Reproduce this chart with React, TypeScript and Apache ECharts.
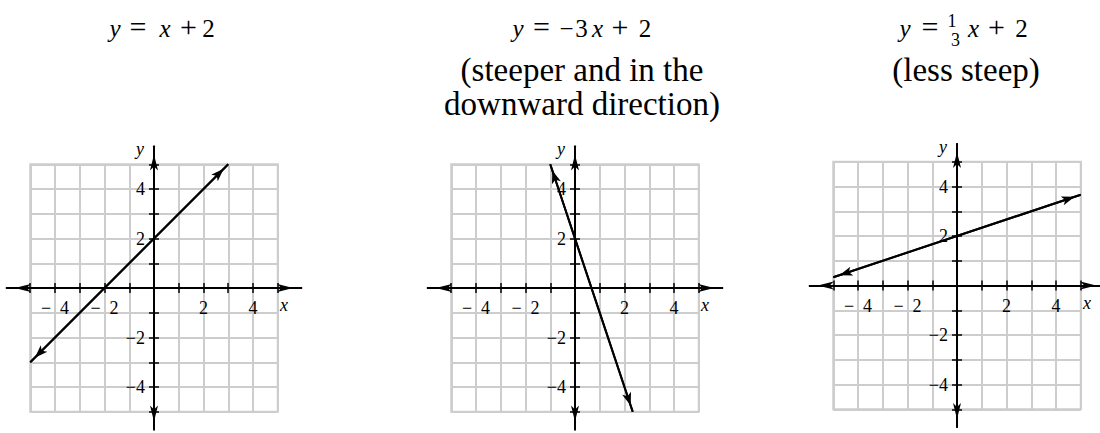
import React, { useEffect, useRef } from "react";
import * as echarts from "echarts";

// ---- data ----
const gridTicks = [-5, -4, -3, -2, -1, 0, 1, 2, 3, 4, 5];
const tickLabels = [-4, -2, 2, 4];
const line1 = [[-5, -3], [3, 5]];
const line2 = [[-1, 5], [2.333, -5]];
const line3 = [[-5, 0.333], [5, 3.667]];
const lines = [line1, line2, line3];
const subtitles2 = ["(steeper and in the", "downward direction)"];
const subtitles3 = ["(less steep)"];

// ---- layout ----
const U = 24.75;
const XR = 5.95;
const YR = 5.72;
const PANELS = [
  { ox: 154, oy: 288 },
  { ox: 575, oy: 288 },
  { ox: 957, oy: 285.5 },
];
const GRAY = "#cdcdcd";
const BLACK = "#000";
const SERIF = "Liberation Serif, Times New Roman, serif";
const EQ_BASE = 37; // baseline of the equation row

// equation pieces: [text, centre x, italic, font size]
type Piece = [string, number, boolean, number];
const EQ1: Piece[] = [
  ["y", 115, true, 25],
  ["=", 138, false, 30],
  ["x", 165, true, 25],
  ["+", 188.5, false, 30],
  ["2", 208.5, false, 25],
];
const EQ2: Piece[] = [
  ["y", 518, true, 25],
  ["=", 541.5, false, 30],
  ["\u2212", 566.5, false, 25],
  ["3", 581.5, false, 25],
  ["x", 597.5, true, 25],
  ["+", 620, false, 30],
  ["2", 645, false, 25],
];
const EQ3: Piece[] = [
  ["y", 905, true, 25],
  ["=", 930, false, 30],
  ["x", 973.5, true, 25],
  ["+", 996.5, false, 30],
  ["2", 1021.5, false, 25],
];

function buildOption() {
  const grid: any[] = [];
  const xAxis: any[] = [];
  const yAxis: any[] = [];
  const series: any[] = [];
  const graphic: any[] = [];

  PANELS.forEach((p, k) => {
    const { ox, oy } = p;
    grid.push({
      left: ox - 5 * U,
      top: oy - 5 * U,
      width: 10 * U,
      height: 10 * U,
      show: true,
      borderColor: GRAY,
      borderWidth: 2,
      outerBoundsMode: "none",
    });
    grid.push({
      left: ox - XR * U,
      top: oy - YR * U,
      width: 2 * XR * U,
      height: 2 * YR * U,
      outerBoundsMode: "none",
    });
    const gi = 2 * k;
    const ai = 2 * k + 1;
    const base = 3 * k;
    const grayAxis = () => ({
      type: "value",
      gridIndex: gi,
      min: -5,
      max: 5,
      interval: 1,
      axisLine: { show: false, onZero: false },
      axisTick: { show: false },
      axisLabel: { show: false },
      splitLine: { show: true, lineStyle: { color: GRAY, width: 2 } },
      z: 0,
    });
    xAxis.push(grayAxis());
    yAxis.push(grayAxis());
    const labelStyle = { fontSize: 18, fontFamily: SERIF, color: BLACK };
    const tick = { show: true, customValues: gridTicks, length: 5, lineStyle: { color: BLACK, width: 1.5 } };
    const arrowLine = {
      show: true,
      onZero: false,
      symbol: ["arrow", "arrow"],
      symbolSize: [6, 16],
      symbolOffset: [8, -8],
      lineStyle: { color: BLACK, width: 2 },
    };
    const plainLine = { show: true, onZero: false, lineStyle: { color: BLACK, width: 2 } };

    xAxis.push({
      type: "value",
      gridIndex: ai,
      position: "bottom",
      offset: -YR * U,
      min: -XR,
      max: XR,
      z: 3,
      axisLine: arrowLine,
      axisTick: tick,
      axisLabel: {
        show: true,
        customValues: tickLabels,
        margin: 11,
        ...labelStyle,
        formatter: (v: number) => (v < 0 ? "\u2212\u2002" + Math.abs(v) : String(v)),
      },
      splitLine: { show: false },
    });
    xAxis.push({
      type: "value",
      gridIndex: ai,
      position: "top",
      offset: -YR * U,
      min: -XR,
      max: XR,
      z: 3,
      axisLine: plainLine,
      axisTick: tick,
      axisLabel: { show: false },
      splitLine: { show: false },
    });
    yAxis.push({
      type: "value",
      gridIndex: ai,
      position: "left",
      offset: -XR * U,
      min: -YR,
      max: YR,
      z: 3,
      axisLine: arrowLine,
      axisTick: tick,
      axisLabel: {
        show: true,
        customValues: tickLabels,
        margin: 9,
        ...labelStyle,
        formatter: (v: number) => (v < 0 ? "\u2212" + Math.abs(v) : String(v)),
      },
      splitLine: { show: false },
    });
    yAxis.push({
      type: "value",
      gridIndex: ai,
      position: "right",
      offset: -XR * U,
      min: -YR,
      max: YR,
      z: 3,
      axisLine: plainLine,
      axisTick: tick,
      axisLabel: { show: false },
      splitLine: { show: false },
    });

    const ln = lines[k];
    series.push({
      type: "line",
      xAxisIndex: base,
      yAxisIndex: base,
      data: ln,
      symbol: "none",
      clip: false,
      silent: true,
      z: 5,
      lineStyle: { color: BLACK, width: 2 },
      markLine: {
        silent: true,
        symbol: ["arrow", "arrow"],
        symbolSize: [7, 13],
        symbolOffset: [[0, 6.5], [0, 6.5]],
        lineStyle: { color: BLACK, width: 2, type: "solid" },
        label: { show: false },
        emphasis: { disabled: true },
        data: [[{ coord: ln[0] }, { coord: ln[1] }]],
      },
    });

    graphic.push({
      type: "text",
      x: ox + 5.25 * U,
      y: oy + 17,
      style: { text: "x", fontSize: 18, fontStyle: "italic", fontFamily: SERIF, fill: BLACK, align: "center", verticalAlign: "middle" },
    });
    graphic.push({
      type: "text",
      x: ox - 14,
      y: oy - 5.6 * U,
      style: { text: "y", fontSize: 18, fontStyle: "italic", fontFamily: SERIF, fill: BLACK, align: "center", verticalAlign: "middle" },
    });
  });

  [EQ1, EQ2, EQ3].forEach((eq) => {
    eq.forEach(([t, cx, it, fs]) => {
      graphic.push({
        type: "text",
        x: cx,
        y: EQ_BASE - 0.3375 * fs,
        style: {
          text: t,
          fontSize: fs,
          fontStyle: it ? "italic" : "normal",
          fontFamily: SERIF,
          fill: BLACK,
          align: "center",
          verticalAlign: "middle",
        },
      });
    });
  });
  graphic.push({
    type: "text",
    x: 952,
    y: 21,
    style: { text: "1", fontSize: 18, fontFamily: SERIF, fill: BLACK, align: "center", verticalAlign: "middle" },
  });
  graphic.push({
    type: "text",
    x: 955.5,
    y: 39.5,
    style: { text: "3", fontSize: 18, fontFamily: SERIF, fill: BLACK, align: "center", verticalAlign: "middle" },
  });
  subtitles2.forEach((t, i) => {
    graphic.push({
      type: "text",
      x: 582,
      y: 70 + i * 34,
      style: { text: t, fontSize: 33, fontFamily: SERIF, fill: BLACK, align: "center", verticalAlign: "middle" },
    });
  });
  subtitles3.forEach((t, i) => {
    graphic.push({
      type: "text",
      x: 966,
      y: 70 + i * 34,
      style: { text: t, fontSize: 33, fontFamily: SERIF, fill: BLACK, align: "center", verticalAlign: "middle" },
    });
  });

  return {
    animation: false,
    backgroundColor: "#fff",
    textStyle: { fontFamily: SERIF },
    grid,
    xAxis,
    yAxis,
    series,
    graphic,
  };
}

export default function App() {
  const ref = useRef<HTMLDivElement>(null);
  useEffect(() => {
    if (!ref.current) return;
    const chart = echarts.init(ref.current, null, { renderer: "svg" });
    chart.setOption(buildOption() as any);
    return () => chart.dispose();
  }, []);
  return (
    <div
      ref={ref}
      style={{ position: "fixed", left: 0, top: 0, width: 1100, height: 433, background: "#fff" }}
    />
  );
}
